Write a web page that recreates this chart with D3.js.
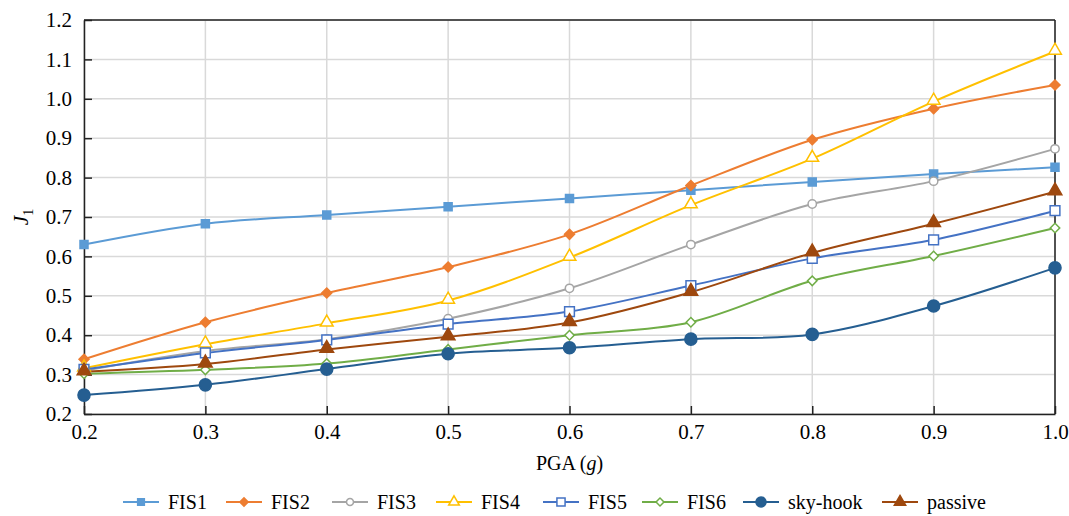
<!DOCTYPE html>
<html>
<head>
<meta charset="utf-8">
<script src="https://cdn.jsdelivr.net/npm/d3@7"></script>
<style>
  body { margin: 0; background: #fff; }
</style>
</head>
<body>
<div id="chart"></div>
<script>
// data
const pga = [0.2, 0.3, 0.4, 0.5, 0.6, 0.7, 0.8, 0.9, 1.0];
const fis1 = [0.630, 0.683, 0.705, 0.726, 0.747, 0.768, 0.789, 0.809, 0.826];
const fis2 = [0.339, 0.433, 0.507, 0.573, 0.656, 0.780, 0.896, 0.975, 1.035];
const fis3 = [0.310, 0.360, 0.390, 0.442, 0.519, 0.630, 0.733, 0.791, 0.873];
const fis4 = [0.316, 0.377, 0.430, 0.488, 0.597, 0.730, 0.848, 0.993, 1.120];
const fis5 = [0.313, 0.355, 0.388, 0.428, 0.460, 0.526, 0.595, 0.642, 0.716];
const fis6 = [0.302, 0.312, 0.328, 0.364, 0.400, 0.433, 0.538, 0.601, 0.672];
const skyhook = [0.248, 0.274, 0.314, 0.353, 0.368, 0.390, 0.402, 0.474, 0.571];
const passive = [0.307, 0.327, 0.364, 0.396, 0.432, 0.509, 0.609, 0.683, 0.764];
const xTicks = [0.2, 0.3, 0.4, 0.5, 0.6, 0.7, 0.8, 0.9, 1.0];
const yTicks = [0.2, 0.3, 0.4, 0.5, 0.6, 0.7, 0.8, 0.9, 1.0, 1.1, 1.2];

const FONT = "'Liberation Serif', 'Times New Roman', serif";

// rotate: diamonds are squares turned 45deg
const series = [
  {name: 'FIS1', values: fis1, color: '#5B9BD5', shape: d3.symbolSquare, size: 64, fill: true, rot: 0},
  {name: 'FIS2', values: fis2, color: '#ED7D31', shape: d3.symbolSquare, size: 50, fill: true, rot: 45},
  {name: 'FIS3', values: fis3, color: '#A5A5A5', shape: d3.symbolCircle, size: 55, fill: false, rot: 0},
  {name: 'FIS4', values: fis4, color: '#FFC000', shape: d3.symbolTriangle, size: 70, fill: false, rot: 0},
  {name: 'FIS5', values: fis5, color: '#4472C4', shape: d3.symbolSquare, size: 95, fill: false, rot: 0},
  {name: 'FIS6', values: fis6, color: '#70AD47', shape: d3.symbolSquare, size: 45, fill: false, rot: 45},
  {name: 'sky-hook', values: skyhook, color: '#255E91', shape: d3.symbolCircle, size: 115, fill: true, rot: 0},
  {name: 'passive', values: passive, color: '#9E480E', shape: d3.symbolTriangle, size: 80, fill: true, rot: 0}
];

const legendX = [123, 226, 332, 436, 543, 642, 743, 882];

const W = 1069, H = 516;
const margin = {top: 20, right: 14, bottom: 102, left: 84};
const width = W - margin.left - margin.right;
const height = H - margin.top - margin.bottom;

const svg = d3.select('#chart').append('svg')
  .attr('width', W)
  .attr('height', H);

const g = svg.append('g')
  .attr('transform', 'translate(' + margin.left + ',' + margin.top + ')');

const x = d3.scaleLinear().domain([0.2, 1.0]).range([0, width]);
const y = d3.scaleLinear().domain([0.2, 1.2]).range([height, 0]);

// grid
g.append('g').selectAll('line')
  .data(yTicks).enter().append('line')
  .attr('x1', 0).attr('x2', width)
  .attr('y1', d => y(d)).attr('y2', d => y(d))
  .attr('stroke', '#d9d9d9').attr('stroke-width', 1.5);
g.append('g').selectAll('line')
  .data(xTicks).enter().append('line')
  .attr('y1', 0).attr('y2', height)
  .attr('x1', d => x(d)).attr('x2', d => x(d))
  .attr('stroke', '#d9d9d9').attr('stroke-width', 1.5);

// frame top / right
g.append('line').attr('x1', 0).attr('x2', width).attr('y1', 0).attr('y2', 0)
  .attr('stroke', '#222').attr('stroke-width', 1.5);
g.append('line').attr('x1', width).attr('x2', width).attr('y1', 0).attr('y2', height)
  .attr('stroke', '#222').attr('stroke-width', 1.5);

// axes
const xAxis = g.append('g')
  .attr('transform', 'translate(0,' + height + ')')
  .call(d3.axisBottom(x).tickValues(xTicks).tickSize(-8).tickSizeOuter(0).tickPadding(10)
    .tickFormat(d3.format('.1f')));
const yAxis = g.append('g')
  .call(d3.axisLeft(y).tickValues(yTicks).tickSize(-8).tickSizeOuter(0).tickPadding(12)
    .tickFormat(d3.format('.1f')));
[xAxis, yAxis].forEach(a => {
  a.attr('font-family', FONT).attr('font-size', 21);
  a.select('.domain').attr('stroke', '#222').attr('stroke-width', 1.5);
  a.selectAll('.tick line').attr('stroke', '#222').attr('stroke-width', 1.5);
  a.selectAll('.tick text').attr('fill', '#000');
});

// axis titles
svg.append('text')
  .attr('x', margin.left + width / 2)
  .attr('y', 470)
  .attr('text-anchor', 'middle')
  .attr('font-family', FONT)
  .attr('font-size', 20)
  .html('PGA (<tspan font-style="italic">g</tspan>)');

svg.append('text')
  .attr('transform', 'translate(28,' + (margin.top + height / 2) + ') rotate(-90)')
  .attr('text-anchor', 'middle')
  .attr('font-family', FONT)
  .attr('font-size', 21)
  .html('<tspan font-style="italic">J</tspan><tspan font-size="14" dy="5">1</tspan>');

// lines
const line = d3.line()
  .x((d, i) => x(pga[i]))
  .y(d => y(d))
  .curve(d3.curveCardinal.tension(0));

series.forEach(s => {
  g.append('path')
    .datum(s.values)
    .attr('d', line)
    .attr('fill', 'none')
    .attr('stroke', s.color)
    .attr('stroke-width', 2);
});

series.forEach(s => {
  g.append('g').selectAll('path')
    .data(s.values).enter().append('path')
    .attr('transform', (d, i) => 'translate(' + x(pga[i]) + ',' + (y(d) + (s.shape === d3.symbolTriangle ? -1 : 0)) + ') rotate(' + s.rot + ')')
    .attr('d', d3.symbol().type(s.shape).size(s.size))
    .attr('fill', s.fill ? s.color : '#fff')
    .attr('stroke', s.color)
    .attr('stroke-width', 1.5);
});

// legend
const legend = svg.append('g');
series.forEach((s, i) => {
  const lx = legendX[i], ly = 502;
  legend.append('line')
    .attr('x1', lx).attr('x2', lx + 36)
    .attr('y1', ly).attr('y2', ly)
    .attr('stroke', s.color).attr('stroke-width', 2);
  legend.append('path')
    .attr('transform', 'translate(' + (lx + 18) + ',' + ly + ') rotate(' + s.rot + ')')
    .attr('d', d3.symbol().type(s.shape).size(s.size * 0.7))
    .attr('fill', s.fill ? s.color : '#fff')
    .attr('stroke', s.color)
    .attr('stroke-width', 1.5);
  legend.append('text')
    .attr('x', lx + 45)
    .attr('y', ly)
    .attr('dy', '0.35em')
    .attr('font-family', FONT)
    .attr('font-size', 20)
    .text(s.name);
});
</script>
</body>
</html>
